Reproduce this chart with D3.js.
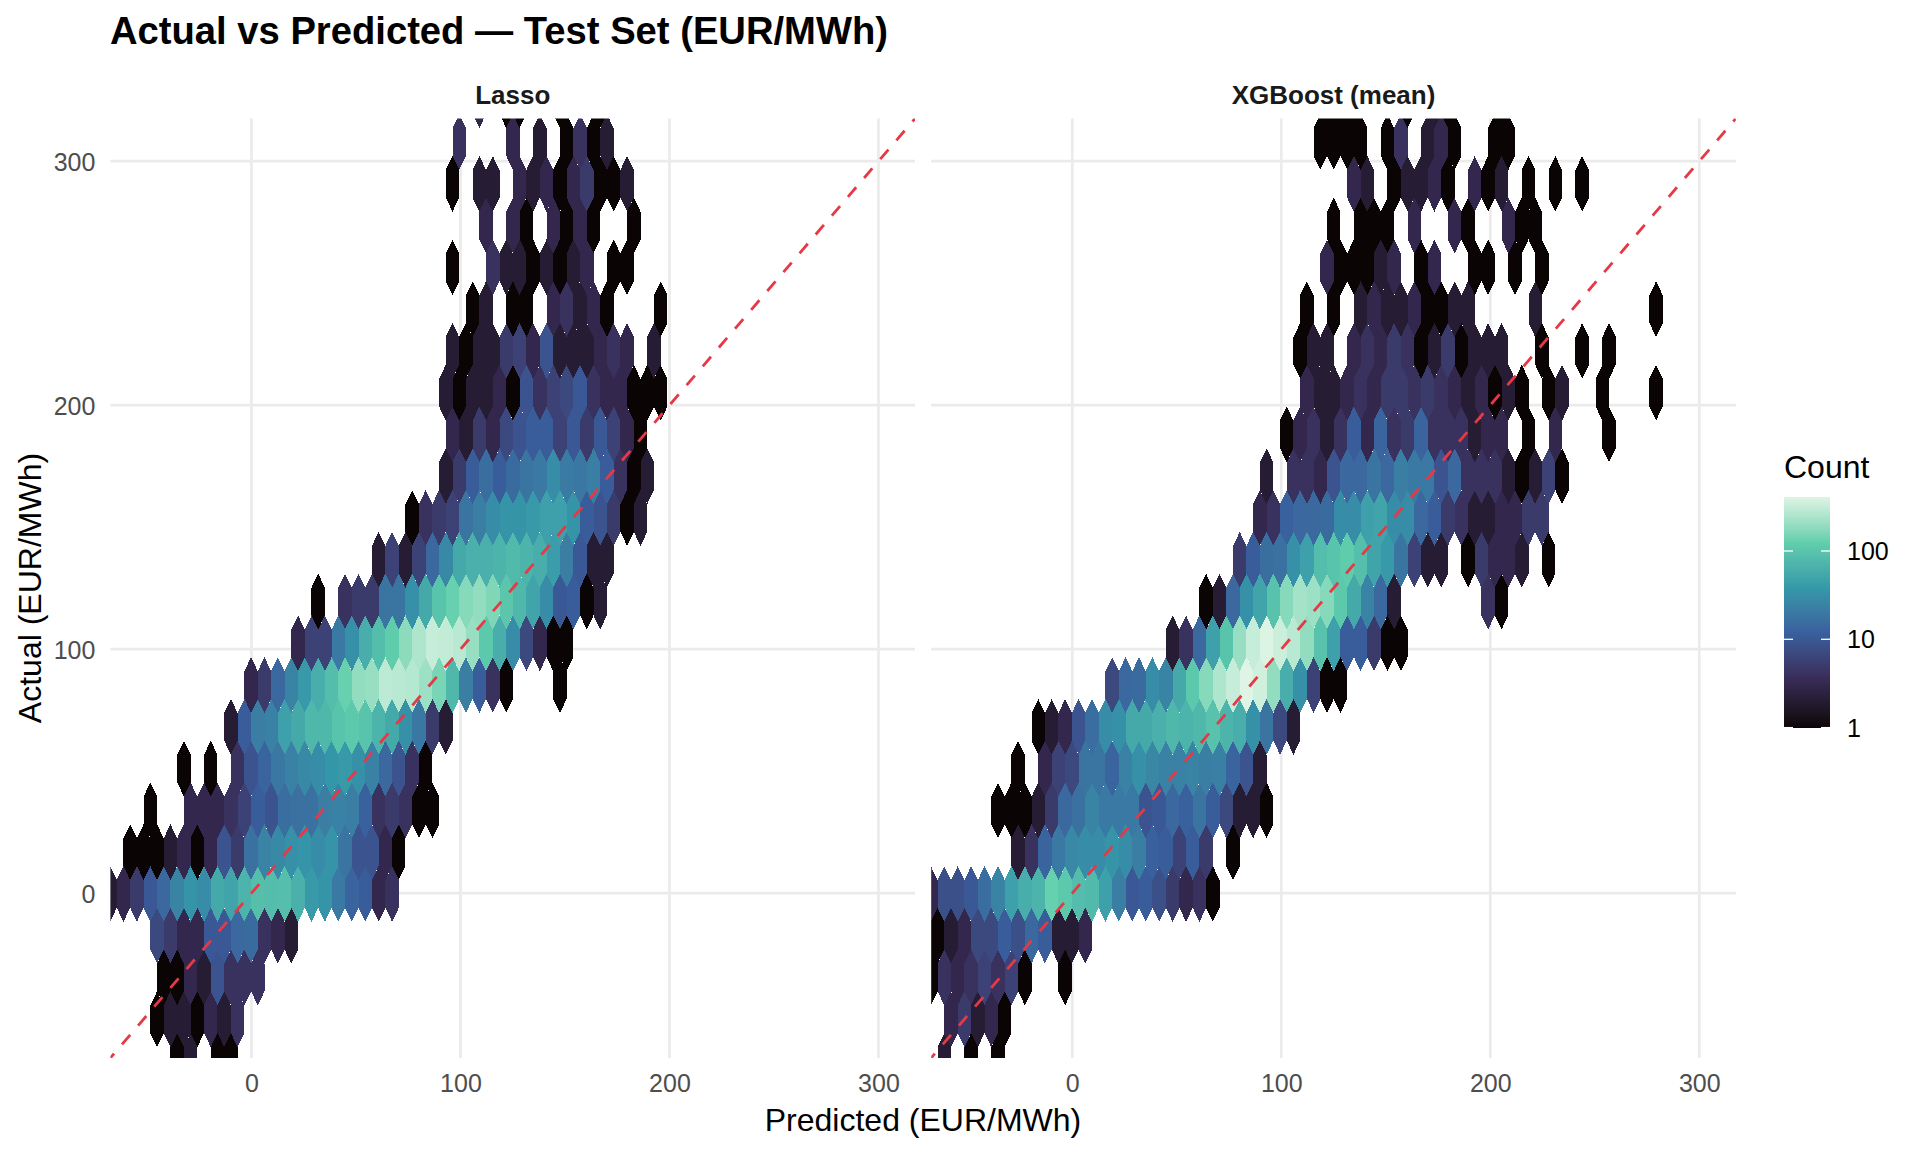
<!DOCTYPE html>
<html>
<head>
<meta charset="utf-8">
<title>Actual vs Predicted</title>
<script src="https://cdn.jsdelivr.net/npm/d3@7"></script>
<style>
  html, body { margin: 0; padding: 0; background: #fff; }
  svg { display: block; font-family: "Liberation Sans", Arial, sans-serif; }
</style>
</head>
<body>
<svg id="chart" width="1920" height="1152"></svg>
<script>
// ---------------------------------------------------------------------------
// Data — hexbin counts, one list per row of the lattice
// ---------------------------------------------------------------------------

const panelTitles = ["Lasso", "XGBoost (mean)"];
const axisTicks = [0, 100, 200, 300];
const legendTicks = [1, 10, 100];
const axisLimits = [-67.5, 317.5];
const maxCount = 412;

// mako palette stops, as in viridis option G with 6 colours
const palette = ["#0B0405", "#382A54", "#395D9C", "#3497A9", "#60CEAC", "#DEF5E5"];
const paletteStops = [0, 0.2, 0.4, 0.6, 0.8, 1];

// hexbin lattice in data units
const colSpacing = 6.426;
const rowSpacing = 17.12;
const evenRowOrigin = -61.24;
const oddRowOrigin = -58.04;
const rowOrigin = -0.3;

const rowIndex = [19, 18, 17, 16, 15, 14, 13, 12, 11, 10, 9, 8, 7, 6, 5, 4, 3, 2, 1, 0, -1, -2, -3, -4];

const lassoFirstCol = [26, 25, 24, 27, 24, 26, 24, 24, 24, 24, 21, 19, 14, 13, 9, 8, 4, 2, 0, -1, 2, 3, 2, 4];
const lassoCounts = [
    [3, 0, 1, 1, 0, 0, 1, 0, 0, 1],
    [4, 0, 0, 0, 3, 0, 2, 0, 1, 4, 1, 2],
    [1, 0, 2, 2, 0, 3, 2, 3, 1, 3, 5, 1, 1, 2],
    [3, 0, 3, 1, 0, 3, 1, 3, 1, 0, 0, 1],
    [1, 0, 0, 4, 2, 2, 1, 2, 1, 2, 3, 0, 1, 1],
    [1, 2, 0, 1, 1, 0, 3, 4, 2, 3, 1, 0, 0, 0, 1],
    [2, 1, 2, 2, 5, 6, 3, 9, 2, 2, 2, 3, 4, 3, 0, 2],
    [2, 1, 2, 2, 3, 1, 9, 4, 6, 7, 10, 4, 3, 3, 1, 1, 1],
    [3, 2, 5, 3, 7, 9, 11, 11, 6, 10, 5, 10, 6, 3, 1],
    [2, 5, 11, 16, 11, 15, 18, 20, 30, 21, 19, 22, 11, 4, 1, 2],
    [1, 4, 5, 6, 18, 22, 30, 35, 35, 40, 45, 45, 35, 11, 9, 5, 1, 2],
    [2, 6, 2, 6, 14, 28, 55, 65, 65, 70, 80, 70, 60, 42, 22, 10, 2, 2],
    [1, 0, 4, 5, 5, 18, 18, 32, 55, 100, 130, 170, 190, 160, 105, 75, 50, 30, 10, 11, 1, 2],
    [3, 6, 6, 20, 32, 60, 85, 120, 180, 250, 320, 310, 280, 200, 110, 60, 30, 7, 3, 1, 1],
    [3, 5, 14, 25, 40, 60, 85, 130, 190, 200, 290, 280, 270, 210, 150, 75, 22, 11, 4, 1, 0, 0, 0, 1],
    [2, 11, 22, 24, 45, 55, 75, 75, 100, 110, 100, 70, 55, 32, 19, 5, 2],
    [1, 0, 1, 0, 4, 9, 13, 19, 24, 28, 30, 37, 40, 33, 24, 14, 9, 4, 1],
    [1, 0, 0, 3, 3, 3, 4, 6, 11, 9, 16, 17, 17, 22, 24, 22, 12, 4, 5, 4, 1, 1],
    [1, 1, 1, 2, 3, 1, 3, 9, 5, 17, 25, 28, 32, 35, 30, 35, 18, 9, 9, 3, 1],
    [2, 3, 5, 10, 14, 25, 35, 30, 55, 50, 70, 90, 85, 90, 65, 40, 35, 20, 13, 11, 3, 4],
    [7, 5, 3, 3, 10, 10, 14, 15, 4, 3, 2],
    [1, 1, 3, 2, 9, 4, 4, 4],
    [1, 2, 2, 1, 3, 2, 4],
    [1, 2, 0, 1, 1]
];

const xgbFirstCol = [28, 28, 30, 29, 28, 27, 26, 27, 25, 24, 23, 22, 19, 17, 12, 7, 5, 4, 5, -1, -1, -1, 0, 0];
const xgbCounts = [
    [1, 1, 1, 0, 0, 0, 1, 0, 2, 1, 0, 0, 0, 1],
    [1, 1, 1, 1, 0, 1, 4, 0, 2, 3, 1, 0, 0, 1, 1],
    [3, 2, 0, 1, 2, 2, 3, 1, 0, 3, 1, 2, 0, 1, 0, 1, 0, 1],
    [1, 0, 1, 1, 1, 0, 3, 0, 0, 3, 1, 0, 0, 3, 1, 1],
    [3, 1, 1, 1, 2, 3, 0, 1, 3, 0, 0, 1, 1, 0, 1, 0, 1],
    [1, 0, 1, 0, 2, 3, 2, 2, 3, 1, 1, 2, 2, 0, 0, 0, 0, 2, 0, 0, 0, 0, 0, 0, 0, 0, 1],
    [1, 2, 2, 0, 3, 4, 3, 5, 4, 1, 2, 5, 1, 2, 2, 2, 0, 0, 1, 0, 0, 1, 0, 1],
    [3, 2, 2, 3, 4, 3, 5, 5, 4, 5, 4, 3, 2, 3, 1, 2, 1, 0, 1, 2, 0, 0, 1, 0, 0, 0, 1],
    [1, 3, 4, 2, 4, 11, 3, 13, 4, 5, 13, 4, 4, 4, 2, 3, 3, 0, 1, 0, 3, 0, 0, 0, 1],
    [2, 0, 4, 4, 3, 9, 14, 14, 18, 14, 22, 20, 20, 9, 14, 4, 4, 4, 2, 1, 2, 6, 1],
    [3, 4, 12, 14, 14, 15, 30, 30, 45, 50, 30, 30, 14, 11, 5, 4, 2, 2, 3, 3, 5, 5],
    [5, 11, 16, 17, 32, 45, 85, 100, 120, 90, 50, 40, 18, 6, 2, 2, 0, 1, 5, 3, 3, 2, 0, 1],
    [1, 2, 14, 33, 50, 95, 170, 230, 210, 170, 110, 55, 25, 14, 2, 0, 0, 0, 0, 0, 0, 4, 1],
    [2, 4, 14, 45, 100, 200, 320, 400, 340, 280, 190, 95, 45, 11, 11, 5, 1, 1],
    [7, 14, 15, 30, 25, 55, 110, 170, 250, 320, 410, 350, 190, 60, 32, 6, 1, 1],
    [1, 2, 3, 9, 16, 30, 33, 55, 55, 65, 75, 70, 75, 95, 70, 60, 33, 18, 7, 2],
    [1, 0, 3, 6, 7, 18, 18, 13, 24, 32, 26, 24, 24, 25, 22, 23, 13, 9, 2],
    [1, 1, 1, 2, 5, 14, 17, 25, 20, 20, 20, 9, 10, 14, 12, 18, 11, 7, 2, 2, 1],
    [2, 4, 13, 20, 27, 30, 30, 35, 30, 22, 12, 11, 6, 11, 5, 0, 1],
    [3, 8, 8, 10, 16, 25, 45, 60, 70, 130, 110, 85, 80, 45, 22, 10, 11, 8, 5, 3, 4, 1],
    [1, 2, 3, 7, 7, 11, 8, 14, 11, 2, 2, 3],
    [1, 4, 3, 4, 6, 4, 6, 1, 0, 0, 1],
    [3, 5, 2, 3, 1],
    [2, 0, 1, 0, 1]
];

// ---------------------------------------------------------------------------
// Layout
// ---------------------------------------------------------------------------

const panelTop = 118.5;
const panelHeight = 939.4;
const panelWidth = 804.65;
const panelLefts = [110.4, 931.2];

const svg = d3.select("#chart");

const y = d3.scaleLinear().domain(axisLimits).range([panelTop + panelHeight, panelTop]);

const fillScale = d3.scaleLinear()
    .domain(paletteStops)
    .range(palette)
    .interpolate(d3.interpolateLab);

const countToFill = c => fillScale(Math.log10(c) / Math.log10(maxCount));

// ---------------------------------------------------------------------------
// Panels
// ---------------------------------------------------------------------------

function hexCells(firstCol, counts) {
    const cells = [];
    counts.forEach((row, i) => {
        const r = rowIndex[i];
        const origin = r % 2 === 0 ? evenRowOrigin : oddRowOrigin;
        row.forEach((count, j) => {
            if (count > 0) {
                cells.push({
                    x: origin + (firstCol[i] + j) * colSpacing,
                    y: rowOrigin + r * rowSpacing,
                    count: count
                });
            }
        });
    });
    return cells;
}

function drawPanel(index, firstCol, counts) {
    const left = panelLefts[index];
    const x = d3.scaleLinear().domain(axisLimits).range([left, left + panelWidth]);
    const g = svg.append("g");

    const clipId = `clip-${index}`;
    svg.append("clipPath").attr("id", clipId).append("rect")
        .attr("x", left).attr("y", panelTop)
        .attr("width", panelWidth).attr("height", panelHeight);

    // grid
    g.selectAll("line.gx").data(axisTicks).join("line")
        .attr("x1", d => x(d)).attr("x2", d => x(d))
        .attr("y1", panelTop).attr("y2", panelTop + panelHeight)
        .attr("stroke", "#ebebeb").attr("stroke-width", 2.7);
    g.selectAll("line.gy").data(axisTicks).join("line")
        .attr("class", "gy")
        .attr("x1", left).attr("x2", left + panelWidth)
        .attr("y1", d => y(d)).attr("y2", d => y(d))
        .attr("stroke", "#ebebeb").attr("stroke-width", 2.7);

    // hexagons
    const halfW = colSpacing / 2;
    const tip = rowSpacing * 2 / 3;
    const hexPath = d => {
        const pts = [
            [d.x, d.y + tip], [d.x + halfW, d.y + tip / 2], [d.x + halfW, d.y - tip / 2],
            [d.x, d.y - tip], [d.x - halfW, d.y - tip / 2], [d.x - halfW, d.y + tip / 2]
        ];
        return "M" + pts.map(p => `${x(p[0])},${y(p[1])}`).join("L") + "Z";
    };
    g.append("g").attr("clip-path", `url(#${clipId})`)
        .selectAll("path").data(hexCells(firstCol, counts)).join("path")
        .attr("d", hexPath)
        .attr("fill", d => countToFill(d.count))
        .attr("shape-rendering", "crispEdges");

    // identity line
    const line = d3.line().x(d => x(d)).y(d => y(d));
    g.append("path")
        .attr("clip-path", `url(#${clipId})`)
        .attr("d", line(axisLimits))
        .attr("fill", "none")
        .attr("stroke", "#E63946")
        .attr("stroke-width", 2.8)
        .attr("stroke-dasharray", "12.6,12.2")
        .attr("stroke-dashoffset", 7);

    // x axis
    const xAxis = d3.axisBottom(x).tickValues(axisTicks).tickSize(0).tickPadding(0);
    const xg = g.append("g").attr("transform", `translate(0,${panelTop + panelHeight + 16})`).call(xAxis);
    xg.select(".domain").remove();
    xg.selectAll("text").attr("dy", "0.71em").attr("fill", "#4d4d4d")
        .attr("font-size", 25).attr("font-family", "Liberation Sans");

    // y axis only on the first panel
    if (index === 0) {
        const yAxis = d3.axisLeft(y).tickValues(axisTicks).tickSize(0).tickPadding(0);
        const yg = g.append("g").attr("transform", `translate(${left - 15},1)`).call(yAxis);
        yg.select(".domain").remove();
        yg.selectAll("text").attr("fill", "#4d4d4d")
            .attr("font-size", 25).attr("font-family", "Liberation Sans");
    }

    // strip title
    g.append("text")
        .attr("x", left + panelWidth / 2)
        .attr("y", 104)
        .attr("text-anchor", "middle")
        .attr("font-size", 26)
        .attr("font-weight", "bold")
        .attr("fill", "#1a1a1a")
        .text(panelTitles[index]);
}

drawPanel(0, lassoFirstCol, lassoCounts);
drawPanel(1, xgbFirstCol, xgbCounts);

// ---------------------------------------------------------------------------
// Titles
// ---------------------------------------------------------------------------

svg.append("text")
    .attr("x", 110).attr("y", 44)
    .attr("font-size", 38.2)
    .attr("font-weight", "bold")
    .attr("fill", "#000")
    .text("Actual vs Predicted — Test Set (EUR/MWh)");

svg.append("text")
    .attr("x", 923).attr("y", 1131)
    .attr("text-anchor", "middle")
    .attr("font-size", 32)
    .attr("fill", "#000")
    .text("Predicted (EUR/MWh)");

svg.append("text")
    .attr("transform", "translate(41,588) rotate(-90)")
    .attr("text-anchor", "middle")
    .attr("font-size", 32)
    .attr("fill", "#000")
    .text("Actual (EUR/MWh)");

// ---------------------------------------------------------------------------
// Legend
// ---------------------------------------------------------------------------

const legendX = 1784;
const legendW = 46;
const legendY = d3.scaleLog().domain([1, maxCount]).range([727.6, 496.7]);
const legendG = svg.append("g");

legendG.selectAll("rect")
    .data(d3.range(497, 728))
    .join("rect")
    .attr("x", legendX)
    .attr("y", d => d)
    .attr("width", legendW)
    .attr("height", 1.2)
    .attr("fill", d => countToFill(Math.max(1, legendY.invert(d + 0.5))))
    .attr("shape-rendering", "crispEdges");

legendG.selectAll("line.l").data(legendTicks).join("line")
    .attr("x1", legendX).attr("x2", legendX + 9)
    .attr("y1", d => legendY(d)).attr("y2", d => legendY(d))
    .attr("stroke", "#fff").attr("stroke-width", 1.3);
legendG.selectAll("line.r").data(legendTicks).join("line")
    .attr("class", "r")
    .attr("x1", legendX + legendW - 9).attr("x2", legendX + legendW)
    .attr("y1", d => legendY(d)).attr("y2", d => legendY(d))
    .attr("stroke", "#fff").attr("stroke-width", 1.3);

legendG.selectAll("text.t").data(legendTicks).join("text")
    .attr("x", 1847)
    .attr("y", d => legendY(d))
    .attr("dy", "0.36em")
    .attr("font-size", 25)
    .attr("fill", "#000")
    .text(d => d);

legendG.append("text")
    .attr("x", 1784).attr("y", 478)
    .attr("font-size", 32)
    .attr("fill", "#000")
    .text("Count");
</script>
</body>
</html>
